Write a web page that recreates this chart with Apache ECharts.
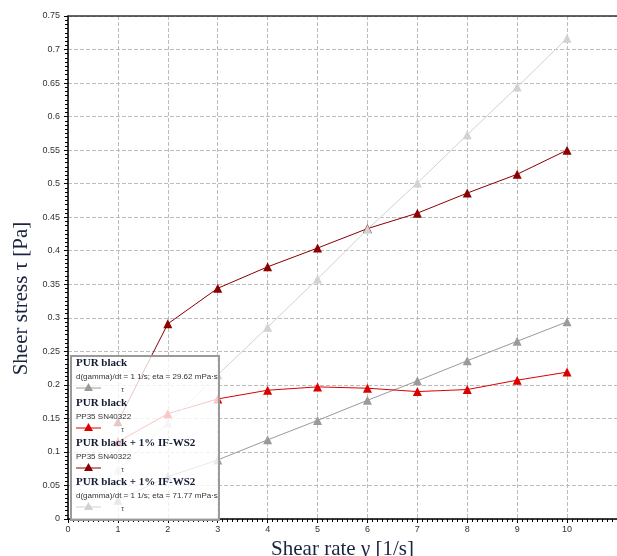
<!DOCTYPE html>
<html>
<head>
<meta charset="utf-8">
<script src="https://cdn.jsdelivr.net/npm/echarts@6/dist/echarts.min.js"></script>
<style>
  html, body { margin: 0; padding: 0; background: #fff; }
  #chart { width: 617px; height: 556px; }
</style>
</head>
<body>
<div id="chart"></div>
<script>
// shear rate [1/s]
var shearRate = [1, 2, 3, 4, 5, 6, 7, 8, 9, 10]
// PUR black, eta = 29.62 mPa·s
var purBlackEta = [0.028, 0.063, 0.088, 0.118, 0.147, 0.177, 0.206, 0.236, 0.265, 0.294]
// PUR black, PP35 SN40322
var purBlackPP35 = [0.115, 0.157, 0.179, 0.192, 0.197, 0.195, 0.190, 0.193, 0.207, 0.219]
// PUR black + 1% IF-WS2, PP35 SN40322
var purWs2PP35 = [0.145, 0.291, 0.344, 0.376, 0.404, 0.433, 0.456, 0.486, 0.514, 0.550]
// PUR black + 1% IF-WS2, eta = 71.77 mPa·s
var purWs2Eta = [0.073, 0.143, 0.215, 0.286, 0.358, 0.432, 0.501, 0.573, 0.644, 0.717]

var seriesDefs = [
  { title: 'PUR black', sub: 'd(gamma)/dt = 1 1/s; eta = 29.62 mPa·s', color: '#9a9a9a', data: purBlackEta },
  { title: 'PUR black', sub: 'PP35 SN40322', color: '#dd0000', data: purBlackPP35 },
  { title: 'PUR black + 1% IF-WS2', sub: 'PP35 SN40322', color: '#8b0000', data: purWs2PP35 },
  { title: 'PUR black + 1% IF-WS2', sub: 'd(gamma)/dt = 1 1/s; eta = 71.77 mPa·s', color: '#d2d2d2', data: purWs2Eta }
]

var chart = echarts.init(document.getElementById('chart'))

// legend box drawn by hand (stacked entries with sub lines)
var legendChildren = [{
  type: 'rect', z: 100,
  shape: { x: 0, y: 0, width: 148, height: 164 },
  style: { fill: 'rgba(255,255,255,0.78)', stroke: '#9a9a9a', lineWidth: 2 }
}]
var entryTops = [8, 48, 88, 127]
seriesDefs.forEach(function (s, i) {
  var t = entryTops[i]
  legendChildren.push({
    type: 'text', x: 5, y: t - 6, z: 101,
    style: { text: s.title, font: 'bold 11px "Liberation Serif"', fill: '#111a33' }
  })
  legendChildren.push({
    type: 'text', x: 5, y: t + 9, z: 101,
    style: { text: s.sub, font: '8px "Liberation Sans"', fill: '#333' }
  })
  legendChildren.push({
    type: 'line', z: 101, shape: { x1: 5, y1: t + 24, x2: 30, y2: t + 24 },
    style: { stroke: s.color, lineWidth: 1 }
  })
  legendChildren.push({
    type: 'polygon', z: 101, shape: { points: [[17.5, t + 19], [13, t + 27], [22, t + 27]] },
    style: { fill: s.color }
  })
  legendChildren.push({
    type: 'text', x: 50, y: t + 22, z: 101,
    style: { text: 'τ', font: '8px "Liberation Sans"', fill: '#555' }
  })
})

chart.setOption({
  backgroundColor: '#fff',
  animation: false,
  grid: {
    left: 68,
    right: 0,
    top: 16,
    bottom: 37,
    outerBoundsMode: 'none'
  },
  xAxis: [{
    type: 'value',
    min: 0,
    max: 11,
    interval: 1,
    name: 'Shear rate γ [1/s]',
    nameLocation: 'middle',
    nameGap: 15,
    nameTextStyle: { fontFamily: 'Liberation Serif', fontSize: 21, color: '#1a2440' },
    axisLine: { lineStyle: { color: '#000', width: 1.5 } },
    axisTick: { length: 4, lineStyle: { color: '#000' } },
    minorTick: { show: true, splitNumber: 10, length: 3, lineStyle: { color: '#000' } },
    axisLabel: {
      fontFamily: 'Liberation Sans', fontSize: 9, color: '#333', margin: 6,
      formatter: function (v) { return v > 10 ? '' : v }
    },
    splitLine: { show: true, lineStyle: { color: '#bdbdbd', type: 'dashed' } }
  }, {
    type: 'value',
    position: 'top',
    min: 0,
    max: 11,
    axisLine: { show: true, onZero: false, lineStyle: { color: '#333', width: 1.5 } },
    axisTick: { show: false },
    axisLabel: { show: false },
    splitLine: { show: false }
  }],
  yAxis: {
    type: 'value',
    min: 0,
    max: 0.75,
    interval: 0.05,
    name: 'Sheer stress τ [Pa]',
    nameLocation: 'middle',
    nameGap: 34,
    nameTextStyle: {
      fontFamily: 'Liberation Serif', fontSize: 21, color: '#1a2440',
      padding: [0, 62, 0, 0]
    },
    axisLine: { show: true, lineStyle: { color: '#000', width: 1.5 } },
    axisTick: { length: 4, lineStyle: { color: '#000' } },
    minorTick: { show: true, splitNumber: 8, length: 3, lineStyle: { color: '#000' } },
    axisLabel: { fontFamily: 'Liberation Sans', fontSize: 9, color: '#333', margin: 8 },
    splitLine: { show: true, lineStyle: { color: '#bdbdbd', type: 'dashed' } }
  },
  series: seriesDefs.map(function (s) {
    return {
      name: s.title,
      type: 'line',
      symbol: 'triangle',
      symbolSize: 9,
      itemStyle: { color: s.color },
      lineStyle: { color: s.color, width: 1 },
      data: shearRate.map(function (x, i) { return [x, s.data[i]] })
    }
  }),
  graphic: [{
    type: 'group',
    left: 70,
    top: 355,
    z: 100,
    children: legendChildren
  }]
})
</script>
</body>
</html>
